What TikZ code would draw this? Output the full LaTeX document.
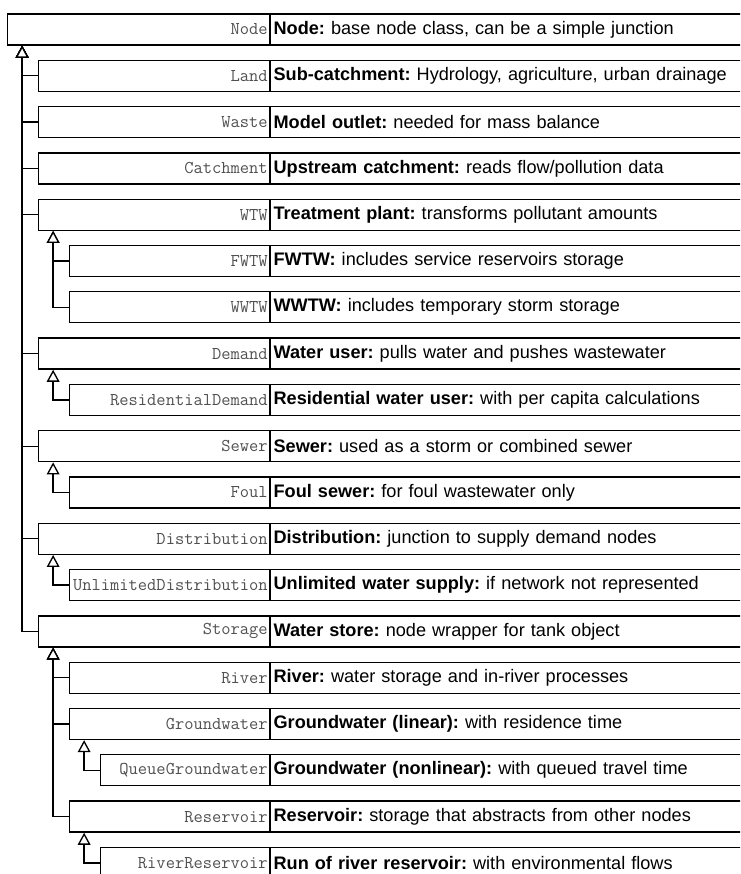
\documentclass[tikz,border=0pt]{standalone}
\usepackage{fontspec}
\setmainfont{Liberation Sans}
\frenchspacing
\usetikzlibrary{arrows.meta}
\definecolor{clsgray}{HTML}{505050}
\tikzset{
  cls/.style = {draw, line width=1pt, anchor=east, align=right, inner xsep=1.2pt,
    minimum height=23.25pt, text=clsgray, font=\ttfamily\fontsize{13.5}{14}\selectfont},
  desc/.style = {draw, line width=1pt, anchor=west, align=left, inner xsep=2.2pt,
    text width=360pt, minimum height=23.25pt, font=\fontsize{13.6}{16}\selectfont},
  isa/.style = {line width=1pt, -{Triangle[fill=white, length=9pt, width=9.5pt]}}
}
\begin{document}
\begin{tikzpicture}[x=.75pt, y=-.75pt]
  \useasboundingbox (0,0) rectangle (740,874);
  \clip (0,0) rectangle (740,874);
  % one row per class: index/level/name/class/title/text
  \foreach \i/\l/\nm/\cname/\hd/\tx in {
    0/0/basenode/Node/{Node:}/{base node class, can be a simple junction},
    1/1/land/Land/{Sub-catchment:}/{Hydrology, agriculture, urban drainage},
    2/1/waste/Waste/{Model outlet:}/{needed for mass balance},
    3/1/catchment/Catchment/{Upstream catchment:}/{reads flow/pollution data},
    4/1/wtw/WTW/{Treatment plant:}/{transforms pollutant amounts},
    5/2/fwtw/FWTW/{FWTW:}/{includes service reservoirs storage},
    6/2/wwtw/WWTW/{WWTW:}/{includes temporary storm storage},
    7/1/demand/Demand/{Water user:}/{pulls water and pushes wastewater},
    8/2/resdemand/ResidentialDemand/{Residential water user:}/{with per capita calculations},
    9/1/sewer/Sewer/{Sewer:}/{used as a storm or combined sewer},
    10/2/foul/Foul/{Foul sewer:}/{for foul wastewater only},
    11/1/distribution/Distribution/{Distribution:}/{junction to supply demand nodes},
    12/2/unlimited/UnlimitedDistribution/{Unlimited water supply:}/{if network not represented},
    13/1/storage/Storage/{Water store:}/{node wrapper for tank object},
    14/2/river/River/{River:}/{water storage and in-river processes},
    15/2/groundwater/Groundwater/{Groundwater (linear):}/{with residence time},
    16/3/queuegw/QueueGroundwater/{Groundwater (nonlinear):}/{with queued travel time},
    17/2/reservoir/Reservoir/{Reservoir:}/{storage that abstracts from other nodes},
    18/3/riverres/RiverReservoir/{Run of river reservoir:}/{with environmental flows}}{
    \node[cls, text width={(262-31*\l)*.75pt-2.4pt}] (\nm) at (270, {29.5+46.3*\i}) {\cname};
    \node[desc] (\nm-d) at (\nm.east) {\textbf{\hd} \tx};
  }
  % inheritance
  \foreach \c in {land, waste, catchment, wtw, demand, sewer, distribution, storage}
    \draw[isa] (\c.west) -| ([xshift=11.6pt]basenode.south west);
  \foreach \c in {fwtw, wwtw}
    \draw[isa] (\c.west) -| ([xshift=11.6pt]wtw.south west);
  \draw[isa] (resdemand.west) -| ([xshift=11.6pt]demand.south west);
  \draw[isa] (foul.west) -| ([xshift=11.6pt]sewer.south west);
  \draw[isa] (unlimited.west) -| ([xshift=11.6pt]distribution.south west);
  \foreach \c in {river, groundwater, reservoir}
    \draw[isa] (\c.west) -| ([xshift=11.6pt]storage.south west);
  \draw[isa] (queuegw.west) -| ([xshift=11.6pt]groundwater.south west);
  \draw[isa] (riverres.west) -| ([xshift=11.6pt]reservoir.south west);
\end{tikzpicture}
\end{document}
